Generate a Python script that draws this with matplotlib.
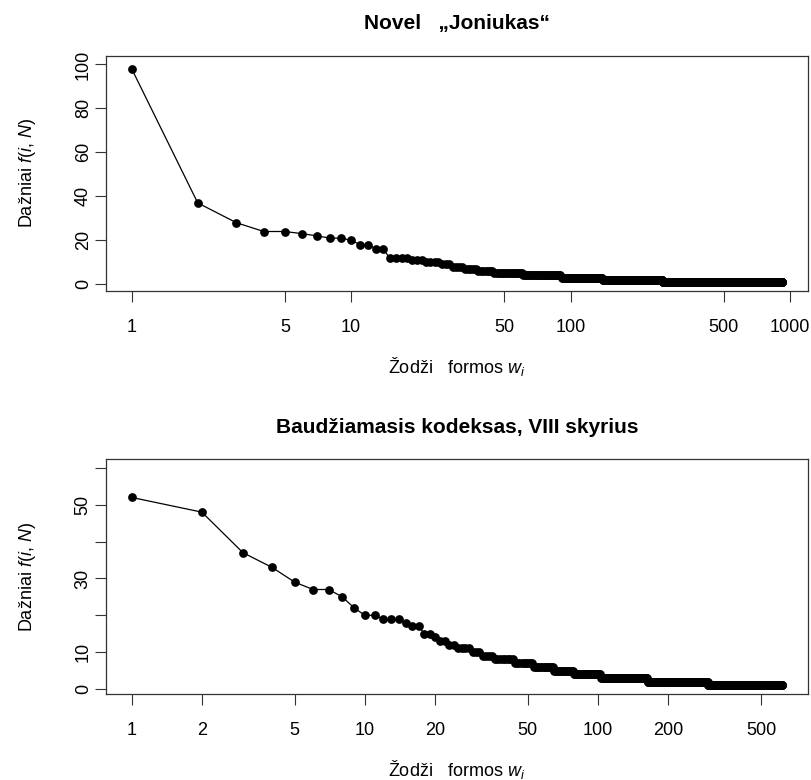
import matplotlib
matplotlib.use("Agg")
import matplotlib.pyplot as plt
import numpy as np

INK = "#000000"
BOX = "#333333"

# Novel "Joniukas": frequencies of the first ranks, then runs of equal frequency
TOP_HEAD = [98, 37, 28, 24, 24, 23, 22, 21, 21, 20, 18, 18, 16, 16]
TOP_RUN_VALUES = [12, 11, 10, 9, 8, 7, 6, 5, 4, 3, 2, 1]
TOP_RUN_COUNTS = [4, 3, 4, 3, 4, 5, 7, 16, 30, 49, 123, 658]
TOP_XTICKS = [1, 5, 10, 50, 100, 500, 1000]
TOP_YTICKS = [0, 20, 40, 60, 80, 100]

# Criminal code, chapter VIII
BOT_HEAD = [52, 48, 37, 33, 29, 27, 27, 25, 22, 20, 20, 19, 19, 19, 18, 17,
            17, 15, 15, 14, 13, 13, 12, 12]
BOT_RUN_VALUES = [11, 10, 9, 8, 7, 6, 5, 4, 3, 2, 1]
BOT_RUN_COUNTS = [4, 3, 4, 8, 9, 12, 14, 24, 60, 133, 320]
BOT_XTICKS = [1, 2, 5, 10, 20, 50, 100, 200, 500]
BOT_YTICKS = [0, 10, 20, 30, 40, 50, 60]
BOT_YLABELS = ["0", "10", "", "30", "", "50", ""]

plt.rcParams.update({
    "font.family": ["Liberation Sans", "DejaVu Sans"],
    "mathtext.fontset": "custom",
    "mathtext.it": "Liberation Sans:italic",
    "mathtext.rm": "Liberation Sans",
    "font.size": 13,
})


def expand(head, values, counts):
    freq = np.concatenate([np.array(head), np.repeat(values, counts)])
    ranks = np.arange(1, len(freq) + 1)
    return ranks, freq


def r_limits(lo, hi, log=False):
    # R style axis range: data range padded by 4% on each side
    if log:
        lo, hi = np.log10(lo), np.log10(hi)
    pad = (hi - lo) * 0.04
    lo, hi = lo - pad, hi + pad
    if log:
        return 10 ** lo, 10 ** hi
    return lo, hi


def panel(ax, ranks, freq, title, xticks, yticks, ylabels, ylim):
    ax.plot(ranks, freq, color=INK, linewidth=0.9, marker="o", markersize=6.3,
            markeredgewidth=0, markerfacecolor=INK)
    ax.set_xscale("log")
    ax.set_xlim(*r_limits(ranks.min(), ranks.max(), log=True))
    ax.set_ylim(*r_limits(*ylim))
    ax.set_xticks(xticks)
    ax.set_xticklabels([str(t) for t in xticks])
    ax.xaxis.set_minor_locator(matplotlib.ticker.NullLocator())
    ax.set_yticks(yticks)
    ax.set_yticklabels(ylabels, rotation=90, va="center")
    ax.tick_params(length=8, width=0.8, color=BOX, labelsize=13)
    ax.tick_params(axis="x", pad=12.5)
    ax.tick_params(axis="y", pad=2)
    for spine in ax.spines.values():
        spine.set_color(BOX)
        spine.set_linewidth(0.9)
    ax.set_title(title, fontsize=15, fontweight="bold", pad=19)
    ax.set_xlabel(r"Žodži   formos $w_i$", va="top")
    ax.xaxis.set_label_coords(0.5, -0.272)
    ax.set_ylabel(r"Dažniai $f$($i$, $N$)")
    ax.yaxis.set_label_coords(-0.097, 0.5)


fig = plt.figure(figsize=(8.11, 7.80), dpi=100)
ax_top = fig.add_axes([0.1303, 0.6272, 0.866, 0.3014])
ax_bot = fig.add_axes([0.1303, 0.1103, 0.866, 0.3009])

r_top, f_top = expand(TOP_HEAD, TOP_RUN_VALUES, TOP_RUN_COUNTS)
r_bot, f_bot = expand(BOT_HEAD, BOT_RUN_VALUES, BOT_RUN_COUNTS)

panel(ax_top, r_top, f_top, "Novel   „Joniukas“", TOP_XTICKS, TOP_YTICKS,
      [str(t) for t in TOP_YTICKS], (1, 100))
panel(ax_bot, r_bot, f_bot, "Baudžiamasis kodeksas, VIII skyrius", BOT_XTICKS,
      BOT_YTICKS, BOT_YLABELS, (1, 60))

fig.savefig("out.png", dpi=100, facecolor="white")
